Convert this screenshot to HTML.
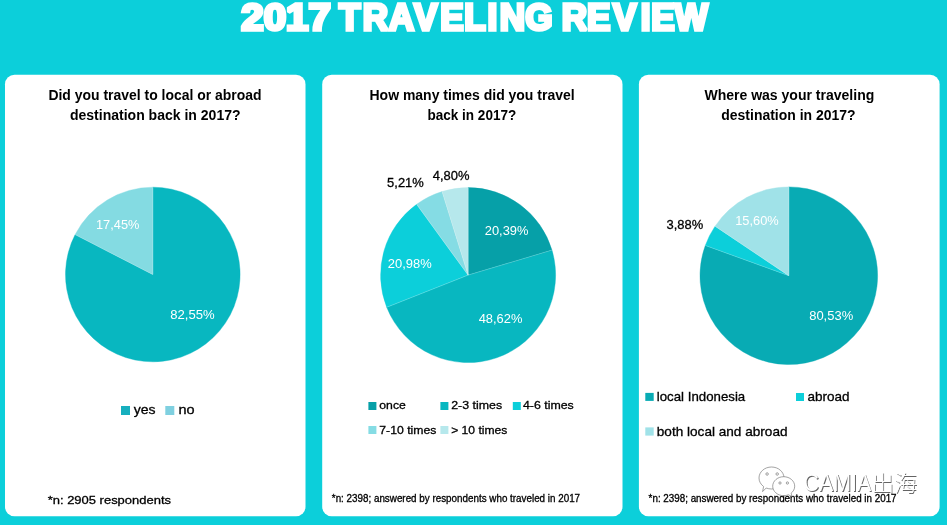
<!DOCTYPE html>
<html lang="en"><head><meta charset="utf-8"><title>2017 Traveling Review</title>
<style>
html,body{margin:0;padding:0;background:#0ccfda;}
body{width:947px;height:525px;overflow:hidden;}
svg{display:block;will-change:transform;font-family:"Liberation Sans","Noto Sans CJK SC",sans-serif;}
</style></head><body>
<svg width="947" height="525" viewBox="0 0 947 525">
<rect width="947" height="525" fill="#0ccfda"/>
<rect x="5" y="74.7" width="300.5" height="441.6" rx="9.5" ry="9.5" fill="#fff"/>
<rect x="322.2" y="74.7" width="300.3" height="441.6" rx="9.5" ry="9.5" fill="#fff"/>
<rect x="638.9" y="74.7" width="300.7" height="441.6" rx="9.5" ry="9.5" fill="#fff"/>
<text x="241.30" y="30" font-size="37" font-weight="700" fill="#fff" textLength="89.60" lengthAdjust="spacingAndGlyphs" stroke="#fff" stroke-width="3.4" stroke-linejoin="miter" stroke-miterlimit="2">2017</text>
<g transform="scale(0.95,1)" font-size="37" font-weight="700" fill="#fff" stroke="#fff" stroke-width="3.4" stroke-linejoin="miter" stroke-miterlimit="2">
<text y="30" x="356.86 381.78 409.19 435.71 463.46 488.56 513.07 525.96 552.87">TRAVELING</text>
<text y="30" x="591.44 617.99 645.24 674.54 685.57 710.36">REVIEW</text>
</g>
<text x="48.40" y="100" font-size="14" font-weight="700" fill="#000" textLength="213.20" lengthAdjust="spacingAndGlyphs" >Did you travel to local or abroad</text>
<text x="69.90" y="120" font-size="14" font-weight="700" fill="#000" textLength="170.70" lengthAdjust="spacingAndGlyphs" >destination back in 2017?</text>
<text x="369.50" y="100" font-size="14" font-weight="700" fill="#000" textLength="205.10" lengthAdjust="spacingAndGlyphs" >How many times did you travel</text>
<text x="427.50" y="120" font-size="14" font-weight="700" fill="#000" textLength="88.70" lengthAdjust="spacingAndGlyphs" >back in 2017?</text>
<text x="704.40" y="100" font-size="14" font-weight="700" fill="#000" textLength="169.90" lengthAdjust="spacingAndGlyphs" >Where was your traveling</text>
<text x="721.30" y="120" font-size="14" font-weight="700" fill="#000" textLength="134.20" lengthAdjust="spacingAndGlyphs" >destination in 2017?</text>
<path d="M152.8 274.5L152.80 187.20A87.3 87.3 0 1 1 75.14 234.62Z" fill="#08b7c0" stroke="#08b7c0" stroke-width="0.4"/>
<path d="M152.8 274.5L75.14 234.62A87.3 87.3 0 0 1 152.80 187.20Z" fill="#84dbe2" stroke="#84dbe2" stroke-width="0.4"/>
<line x1="152.8" y1="274.5" x2="152.80" y2="187.20" stroke="#fff" stroke-opacity="0.3" stroke-width="0.7"/>
<line x1="152.8" y1="274.5" x2="75.14" y2="234.62" stroke="#fff" stroke-opacity="0.3" stroke-width="0.7"/>
<path d="M468.1 275.1L468.10 187.60A87.5 87.5 0 0 1 551.95 250.11Z" fill="#06a0a8" stroke="#06a0a8" stroke-width="0.4"/>
<path d="M468.1 275.1L551.95 250.11A87.5 87.5 0 0 1 386.72 307.26Z" fill="#08b7c0" stroke="#08b7c0" stroke-width="0.4"/>
<path d="M468.1 275.1L386.72 307.26A87.5 87.5 0 0 1 416.62 204.34Z" fill="#0ccfda" stroke="#0ccfda" stroke-width="0.4"/>
<path d="M468.1 275.1L416.62 204.34A87.5 87.5 0 0 1 442.11 191.55Z" fill="#85dce4" stroke="#85dce4" stroke-width="0.4"/>
<path d="M468.1 275.1L442.11 191.55A87.5 87.5 0 0 1 468.10 187.60Z" fill="#b6e8ec" stroke="#b6e8ec" stroke-width="0.4"/>
<line x1="468.1" y1="275.1" x2="468.10" y2="187.60" stroke="#fff" stroke-opacity="0.3" stroke-width="0.7"/>
<line x1="468.1" y1="275.1" x2="551.95" y2="250.11" stroke="#fff" stroke-opacity="0.3" stroke-width="0.7"/>
<line x1="468.1" y1="275.1" x2="386.72" y2="307.26" stroke="#fff" stroke-opacity="0.3" stroke-width="0.7"/>
<line x1="468.1" y1="275.1" x2="416.62" y2="204.34" stroke="#fff" stroke-opacity="0.3" stroke-width="0.7"/>
<line x1="468.1" y1="275.1" x2="442.11" y2="191.55" stroke="#fff" stroke-opacity="0.3" stroke-width="0.7"/>
<path d="M788.8 275.7L788.80 186.90A88.8 88.8 0 1 1 705.31 245.46Z" fill="#08abb4" stroke="#08abb4" stroke-width="0.4"/>
<path d="M788.8 275.7L705.31 245.46A88.8 88.8 0 0 1 715.07 226.20Z" fill="#0ccfda" stroke="#0ccfda" stroke-width="0.4"/>
<path d="M788.8 275.7L715.07 226.20A88.8 88.8 0 0 1 788.86 186.90Z" fill="#a0e2e8" stroke="#a0e2e8" stroke-width="0.4"/>
<line x1="788.8" y1="275.7" x2="788.80" y2="186.90" stroke="#fff" stroke-opacity="0.3" stroke-width="0.7"/>
<line x1="788.8" y1="275.7" x2="705.31" y2="245.46" stroke="#fff" stroke-opacity="0.3" stroke-width="0.7"/>
<line x1="788.8" y1="275.7" x2="715.07" y2="226.20" stroke="#fff" stroke-opacity="0.3" stroke-width="0.7"/>
<text x="96.00" y="229" font-size="13.5" font-weight="400" fill="#fff" textLength="43.40" lengthAdjust="spacingAndGlyphs" >17,45%</text>
<text x="170.30" y="319" font-size="13.5" font-weight="400" fill="#fff" textLength="44.40" lengthAdjust="spacingAndGlyphs" >82,55%</text>
<text x="387.10" y="187" font-size="13.5" font-weight="400" fill="#000" textLength="36.70" lengthAdjust="spacingAndGlyphs" stroke="#000" stroke-width="0.3">5,21%</text>
<text x="432.70" y="180" font-size="13.5" font-weight="400" fill="#000" textLength="36.70" lengthAdjust="spacingAndGlyphs" stroke="#000" stroke-width="0.3">4,80%</text>
<text x="484.80" y="235" font-size="13.5" font-weight="400" fill="#fff" textLength="43.60" lengthAdjust="spacingAndGlyphs" >20,39%</text>
<text x="387.80" y="268" font-size="13.5" font-weight="400" fill="#fff" textLength="43.90" lengthAdjust="spacingAndGlyphs" >20,98%</text>
<text x="478.70" y="323" font-size="13.5" font-weight="400" fill="#fff" textLength="43.70" lengthAdjust="spacingAndGlyphs" >48,62%</text>
<text x="666.50" y="229" font-size="13.5" font-weight="400" fill="#000" textLength="36.70" lengthAdjust="spacingAndGlyphs" stroke="#000" stroke-width="0.3">3,88%</text>
<text x="735.20" y="225" font-size="13.5" font-weight="400" fill="#fff" textLength="43.60" lengthAdjust="spacingAndGlyphs" >15,60%</text>
<text x="809.20" y="320" font-size="13.5" font-weight="400" fill="#fff" textLength="44.00" lengthAdjust="spacingAndGlyphs" >80,53%</text>
<rect x="121" y="406" width="9" height="9" fill="#17afbe"/>
<text x="133.80" y="414" font-size="13.2" font-weight="400" fill="#000" textLength="21.80" lengthAdjust="spacingAndGlyphs" stroke="#000" stroke-width="0.3">yes</text>
<rect x="165.3" y="406" width="9" height="9" fill="#7fd0e0"/>
<text x="178.40" y="414" font-size="13.2" font-weight="400" fill="#000" textLength="16.10" lengthAdjust="spacingAndGlyphs" stroke="#000" stroke-width="0.3">no</text>
<rect x="368.4" y="402" width="8" height="8" fill="#06a0a8"/>
<text x="379.30" y="409" font-size="11.5" font-weight="400" fill="#000" textLength="26.50" lengthAdjust="spacingAndGlyphs" stroke="#000" stroke-width="0.3">once</text>
<rect x="440.4" y="402" width="8" height="8" fill="#08b7c0"/>
<text x="451.20" y="409" font-size="11.5" font-weight="400" fill="#000" textLength="50.90" lengthAdjust="spacingAndGlyphs" stroke="#000" stroke-width="0.3">2-3 times</text>
<rect x="512.8" y="402" width="8" height="8" fill="#0ccfda"/>
<text x="523.00" y="409" font-size="11.5" font-weight="400" fill="#000" textLength="50.80" lengthAdjust="spacingAndGlyphs" stroke="#000" stroke-width="0.3">4-6 times</text>
<rect x="368.4" y="426" width="8" height="8" fill="#85dce4"/>
<text x="379.30" y="434" font-size="11.5" font-weight="400" fill="#000" textLength="57.10" lengthAdjust="spacingAndGlyphs" stroke="#000" stroke-width="0.3">7-10 times</text>
<rect x="440.4" y="426" width="8" height="8" fill="#b6e8ec"/>
<text x="451.20" y="434" font-size="11.5" font-weight="400" fill="#000" textLength="56.20" lengthAdjust="spacingAndGlyphs" stroke="#000" stroke-width="0.3">&gt; 10 times</text>
<rect x="645.3" y="392.9" width="8.4" height="8" fill="#08abb4"/>
<text x="656.80" y="401" font-size="12.8" font-weight="400" fill="#000" textLength="88.40" lengthAdjust="spacingAndGlyphs" stroke="#000" stroke-width="0.3">local Indonesia</text>
<rect x="796" y="393" width="8" height="8" fill="#0ccfda"/>
<text x="807.50" y="401" font-size="12.8" font-weight="400" fill="#000" textLength="42.00" lengthAdjust="spacingAndGlyphs" stroke="#000" stroke-width="0.3">abroad</text>
<rect x="645.3" y="427.4" width="8.4" height="8.2" fill="#a0e2e8"/>
<text x="656.80" y="436" font-size="12.8" font-weight="400" fill="#000" textLength="130.70" lengthAdjust="spacingAndGlyphs" stroke="#000" stroke-width="0.3">both local and abroad</text>
<text x="47.70" y="504" font-size="11.8" font-weight="400" fill="#000" textLength="123.30" lengthAdjust="spacingAndGlyphs" stroke="#000" stroke-width="0.3">*n: 2905 respondents</text>
<text x="331.80" y="502" font-size="10.1" font-weight="400" fill="#000" textLength="248.30" lengthAdjust="spacingAndGlyphs" stroke="#000" stroke-width="0.3">*n: 2398; answered by respondents who traveled in 2017</text>
<text x="648.60" y="502" font-size="10.1" font-weight="400" fill="#000" textLength="248.00" lengthAdjust="spacingAndGlyphs" stroke="#000" stroke-width="0.3">*n: 2398; answered by respondents who traveled in 2017</text>
<g id="wm">
<g fill="#fff" stroke="#666" stroke-opacity="0.75" stroke-width="0.8" stroke-linejoin="round">
<path d="M771.5 467 C778.4 467 784 471.9 784 478 C784 484.1 778.4 489 771.5 489 C769.6 489 767.8 488.6 766.2 488 L762.6 491.6 L763.6 486.5 C760.8 484.5 759 481.4 759 478 C759 471.9 764.6 467 771.5 467Z"/>
<path d="M783.7 476.7 C789.8 476.7 794.7 481 794.7 486.2 C794.7 489 793.3 491.5 791.1 493.2 L792 496.6 L788.4 494.8 C786.9 495.4 785.4 495.7 783.7 495.7 C777.6 495.7 772.7 491.4 772.7 486.2 C772.7 481 777.6 476.7 783.7 476.7Z"/>
<circle cx="767.1" cy="474" r="1.25"/><circle cx="777.2" cy="474" r="1.25"/>
<circle cx="780" cy="483" r="1.15"/><circle cx="787.4" cy="483" r="1.15"/>
</g>
<text y="492.00" fill="#222" fill-opacity="0.7" font-weight="400"><tspan x="804.50" font-size="24" textLength="67.6" lengthAdjust="spacingAndGlyphs">CAMIA</tspan><tspan x="872.10" font-size="21.6" font-family="'Noto Sans CJK SC','WenQuanYi Zen Hei',sans-serif" font-weight="300" textLength="46" lengthAdjust="spacingAndGlyphs">出海</tspan></text><text y="491.00" fill="#fff" fill-opacity="1" font-weight="400"><tspan x="803.60" font-size="24" textLength="67.6" lengthAdjust="spacingAndGlyphs">CAMIA</tspan><tspan x="871.20" font-size="21.6" font-family="'Noto Sans CJK SC','WenQuanYi Zen Hei',sans-serif" font-weight="300" textLength="46" lengthAdjust="spacingAndGlyphs">出海</tspan></text></g>
</svg>
</body></html>
